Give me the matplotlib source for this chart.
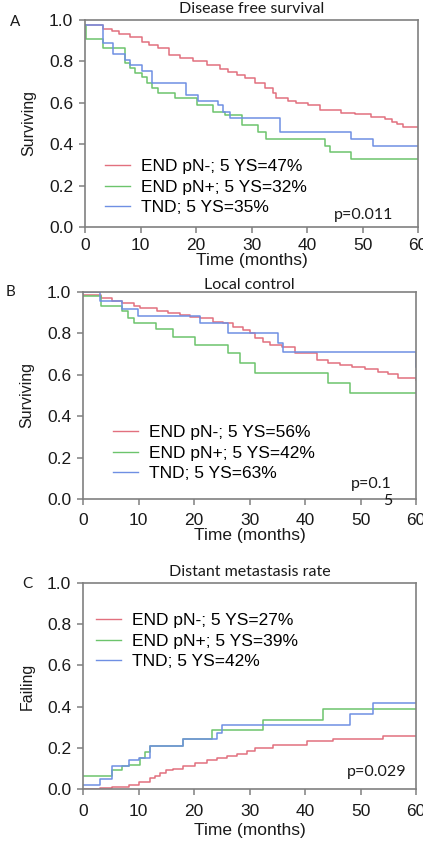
import matplotlib
matplotlib.use('Agg')
import matplotlib.pyplot as plt

plt.rcParams['font.family'] = ['Liberation Sans', 'DejaVu Sans']

TICK_SIZE = 12.5
RED = '#E2707E'
GREEN = '#6CC46C'
BLUE = '#6F8FE3'
SPINE = '#808080'
TXT = '#1a1a1a'
CAL = ['Lato', 'DejaVu Sans']

FOLLOWUP_END = 60

# ---------------- Panel A: Disease free survival ----------------
a_red_t = [0, 3.2, 4.8, 6.1, 8.1, 10.2, 11.5, 13.2, 15.1, 17.1, 19.5, 21.9, 24.3, 25.8,
           27.3, 28.8, 30.6, 32.4, 33.9, 34.5, 36.5, 38.1, 40.2, 42.3, 46.2, 48.6, 51.6,
           54.0, 55.3, 56.2, 57.3]
a_red_s = [0.976, 0.957, 0.947, 0.93, 0.92, 0.895, 0.88, 0.863, 0.83, 0.818, 0.80, 0.783,
           0.762, 0.75, 0.734, 0.72, 0.694, 0.67, 0.646, 0.622, 0.61, 0.60, 0.59, 0.565,
           0.552, 0.544, 0.533, 0.52, 0.509, 0.496, 0.485]
a_green_t = [0, 0.2, 3.2, 7.2, 8.1, 9.0, 10.2, 11.1, 12.0, 13.2, 16.2, 20.1, 23.1, 25.2,
             28.2, 31.2, 32.7, 43.2, 44.1, 48.0]
a_green_s = [0.976, 0.91, 0.863, 0.791, 0.767, 0.742, 0.726, 0.694, 0.67, 0.646, 0.622,
             0.589, 0.557, 0.541, 0.493, 0.46, 0.425, 0.391, 0.364, 0.328]
a_blue_t = [0, 3.2, 5.1, 7.2, 8.1, 10.2, 12.0, 18.2, 20.4, 24.0, 24.9, 26.1, 35.1, 48.0, 51.9]
a_blue_s = [0.976, 0.89, 0.834, 0.807, 0.783, 0.754, 0.694, 0.638, 0.609, 0.589, 0.557,
            0.525, 0.46, 0.424, 0.39]
a_labels = ['END pN-; 5 YS=47%', 'END pN+; 5 YS=32%', 'TND; 5 YS=35%']

# ---------------- Panel B: Local control ----------------
b_red_t = [0, 3.2, 5.2, 7.1, 9.1, 10.3, 13.3, 15.4, 17.5, 19.3, 21.1, 23.5, 25.3, 27.1,
           28.9, 30.1, 31.0, 32.5, 33.7, 35.8, 38.2, 42.1, 44.2, 46.3, 48.4, 50.8, 53.2,
           55.0, 56.8, 60]
b_red_s = [0.985, 0.97, 0.957, 0.945, 0.934, 0.924, 0.908, 0.897, 0.889, 0.881, 0.873,
           0.857, 0.849, 0.833, 0.817, 0.80, 0.776, 0.76, 0.744, 0.736, 0.704, 0.671,
           0.658, 0.647, 0.636, 0.626, 0.615, 0.602, 0.586, 0.575]
b_green_t = [0, 3.2, 7.1, 8.1, 9.1, 13.2, 16.2, 20.2, 26.2, 28.3, 31.0, 44.1, 48.1]
b_green_s = [0.981, 0.93, 0.906, 0.873, 0.849, 0.819, 0.784, 0.744, 0.704, 0.655, 0.61,
             0.562, 0.514]
b_blue_t = [0, 3.1, 7.0, 9.9, 21.1, 26.2, 35.1, 36.1, 60]
b_blue_s = [1.0, 0.955, 0.918, 0.885, 0.848, 0.80, 0.755, 0.708, 0.64]
b_labels = ['END pN-; 5 YS=56%', 'END pN+; 5 YS=42%', 'TND; 5 YS=63%']

# ---------------- Panel C: Distant metastasis rate ----------------
c_red_t = [0, 3.1, 5.2, 8.2, 10.1, 12.1, 13.0, 13.9, 15.0, 16.2, 18.0, 20.2, 22.3, 24.1,
           25.9, 27.7, 29.5, 31.0, 34.3, 40.3, 45.1, 54.1]
c_red_f = [0, 0.005, 0.01, 0.019, 0.032, 0.053, 0.065, 0.078, 0.09, 0.098, 0.11, 0.126,
           0.139, 0.15, 0.162, 0.171, 0.183, 0.199, 0.215, 0.231, 0.243, 0.255]
c_green_t = [0, 5.2, 7.1, 8.3, 10.3, 11.2, 12.1, 18.1, 23.2, 32.5, 43.2]
c_green_f = [0.065, 0.094, 0.11, 0.118, 0.15, 0.182, 0.207, 0.243, 0.284, 0.336, 0.388]
c_blue_t = [0, 3.1, 5.2, 8.2, 10.1, 12.1, 18.1, 24.1, 25.0, 48.1, 52.2]
c_blue_f = [0.021, 0.049, 0.11, 0.139, 0.15, 0.207, 0.243, 0.272, 0.312, 0.366, 0.417]
c_labels = ['END pN-; 5 YS=27%', 'END pN+; 5 YS=39%', 'TND; 5 YS=42%']

x_ticks = [0, 10, 20, 30, 40, 50, 60]
y_ticks = [0.0, 0.2, 0.4, 0.6, 0.8, 1.0]

fig = plt.figure(figsize=(4.23, 8.42), dpi=100)

panels = [
    dict(rect=[85/423, 1-227/842, 333/423, 207/842], title='Disease free survival',
         title_pad=5, letter='A', letter_xy=(10/423, 1-22/842), ylabel='Surviving',
         series=[(a_red_t, a_red_s, RED), (a_green_t, a_green_s, GREEN), (a_blue_t, a_blue_s, BLUE)],
         labels=a_labels, leg_anchor=(0.06, 0.193), ptext='p=0.011', pxy=(0.925, 0.058),
         xpad=4.2, xlabelpad=-0.5),
    dict(rect=[83/423, 1-499/842, 333/423, 207/842], title='Local control',
         title_pad=2, letter='B', letter_xy=(6/423, 1-292/842), ylabel='Surviving',
         series=[(b_red_t, b_red_s, RED), (b_green_t, b_green_s, GREEN), (b_blue_t, b_blue_s, BLUE)],
         labels=b_labels, leg_anchor=(0.09, 0.222), ptext='p=0.1\n5', pxy=(0.928, 0.033),
         xpad=6.3, xlabelpad=0),
    dict(rect=[83/423, 1-789/842, 333/423, 206/842], title='Distant metastasis rate',
         title_pad=5, letter='C', letter_xy=(22/423, 1-584/842), ylabel='Failing',
         series=[(c_red_t, c_red_f, RED), (c_green_t, c_green_f, GREEN), (c_blue_t, c_blue_f, BLUE)],
         labels=c_labels, leg_anchor=(0.039, 0.718), ptext='p=0.029', pxy=(0.97, 0.083),
         xpad=7.0, xlabelpad=2.5),
]

for p in panels:
    ax = fig.add_axes(p['rect'])
    handles = []
    for (t, s, col), lab in zip(p['series'], p['labels']):
        tt = list(t) + [FOLLOWUP_END]
        ss = list(s) + [s[-1]]
        h, = ax.step(tt, ss, where='post', color=col, lw=1.1, label=lab)
        handles.append(h)
    ax.set_xlim(0, 60)
    ax.set_ylim(0, 1.0)
    ax.set_xticks(x_ticks)
    ax.set_yticks(y_ticks)
    ax.set_yticklabels(['%.1f' % v for v in y_ticks])
    for sp in ax.spines.values():
        sp.set_color(SPINE)
        sp.set_linewidth(1.2)
    ax.tick_params(axis='both', which='both', direction='out', length=4, width=1.1,
                   color=SPINE, labelsize=TICK_SIZE, labelcolor=TXT)
    ax.tick_params(axis='x', pad=p['xpad'])
    ax.tick_params(axis='y', pad=4.5)
    ax.set_xlabel('Time (months)', fontsize=TICK_SIZE, labelpad=p['xlabelpad'], color=TXT)
    ax.set_ylabel(p['ylabel'], fontsize=11.5, labelpad=9, color=TXT)
    ax.set_title(p['title'], fontsize=11.5, family=CAL, pad=p['title_pad'], color=TXT)
    leg = ax.legend(handles=handles, loc='center left', bbox_to_anchor=p['leg_anchor'],
                    frameon=False, fontsize=12.5, handlelength=1.45, handletextpad=0.6,
                    labelspacing=0.3, borderpad=0, borderaxespad=0)
    for line in leg.get_lines():
        line.set_linewidth(1.0)
    ax.text(p['pxy'][0], p['pxy'][1], p['ptext'], transform=ax.transAxes, ha='right',
            va='center', fontsize=11.5, family=CAL, multialignment='right', color=TXT,
            linespacing=1.3)
    fig.text(p['letter_xy'][0], p['letter_xy'][1], p['letter'], fontsize=11, family=CAL,
             ha='left', va='center', color=TXT)

fig.savefig('out.png', dpi=100)
